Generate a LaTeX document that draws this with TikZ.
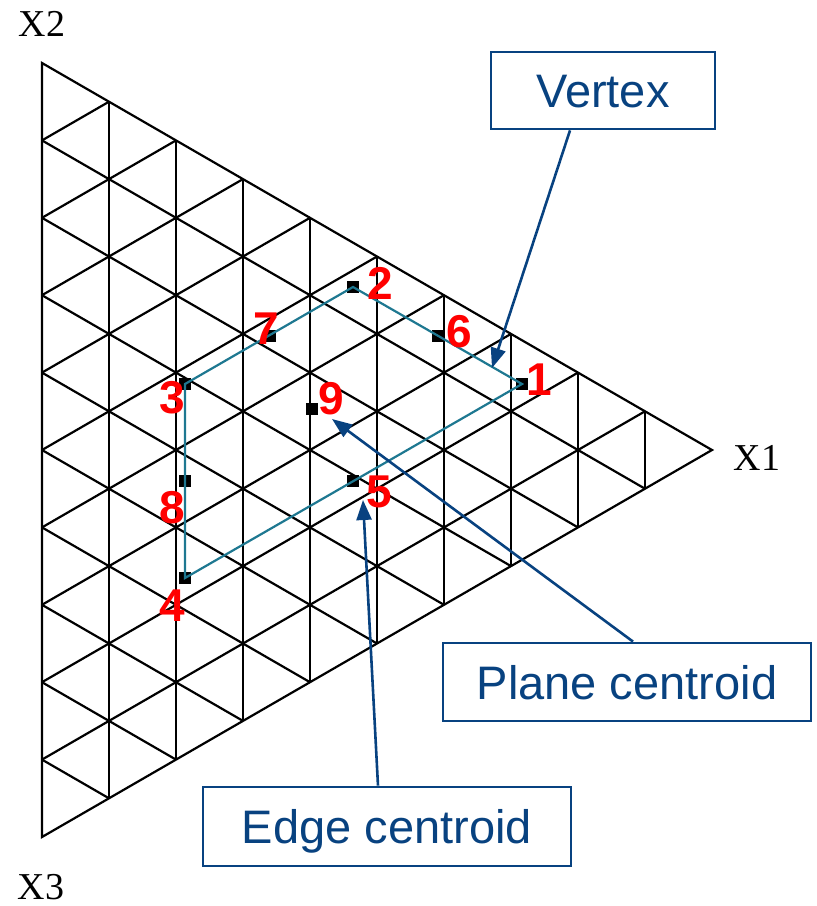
\documentclass[tikz,border=0pt]{standalone}
\usepackage{fontspec}
\setmainfont{Liberation Serif}
\newfontfamily\arialfont{Liberation Sans}
\usetikzlibrary{calc,arrows.meta}
\definecolor{teal1}{RGB}{30,120,145}
\definecolor{navy1}{RGB}{8,66,128}
\begin{document}
\begin{tikzpicture}[x=1pt,y=-1pt,
  grid/.style={line width=2.2pt, black},
  sq/.style={fill=black, minimum size=12.5pt, inner sep=0pt, outer sep=0pt},
  num/.style={text=red, font=\arialfont\bfseries\fontsize{46}{46}\selectfont, inner sep=0pt, text height=33pt, text depth=0pt},
  poly/.style={teal1, line width=2.2pt, line join=miter},
  box/.style={draw=navy1, line width=2.8pt, fill=white, text=navy1, font=\arialfont\fontsize{47}{47}\selectfont, inner sep=0pt, text height=34pt, text depth=0pt},
  arr/.style={navy1, line width=2.6pt, -{Triangle[length=20pt,width=15pt]}},
  axis/.style={font=\fontsize{38}{38}\selectfont, inner sep=0pt, text height=25pt, text depth=0pt}]
\useasboundingbox (0,0) rectangle (817,906);
% triangle and grid
\coordinate (X2) at (42,63);
\coordinate (X3) at (42,837);
\coordinate (X1) at (712,450);
\foreach \k in {1,...,9}{
  \draw[grid] ($(X1)!\k/10!(X2)$) -- ($(X1)!\k/10!(X3)$);
  \draw[grid] ($(X3)!\k/10!(X2)$) -- ($(X3)!\k/10!(X1)$);
  \draw[grid] ($(X2)!\k/10!(X3)$) -- ($(X2)!\k/10!(X1)$);
}
\draw[grid, line join=miter] (X2) -- (X1) -- (X3) -- cycle;
% axis labels
\node[axis] (lx2) at (42,24) {X2};
\node[axis] (lx1) at (757,458) {X1};
\node[axis] (lx3) at (41,887) {X3};
% points
\node[sq] (p1) at (522,384) {};
\node[sq] (p2) at (353,287) {};
\node[sq] (p3) at (185,384) {};
\node[sq] (p4) at (185,578) {};
\node[sq] (p5) at (353,481) {};
\node[sq] (p6) at (438,336) {};
\node[sq] (p7) at (270,336) {};
\node[sq] (p8) at (185,481) {};
\node[sq] (p9) at (312,409) {};
% polygon
\draw[poly] (p2.center) -- (p1.center) -- (p4.center) -- (p3.center) -- cycle;
% numbers
\node[num] (n1) at (539,379) {1};
\node[num] (n2) at (380,283) {2};
\node[num] (n3) at (172,397) {3};
\node[num] (n4) at (172,605) {4};
\node[num] (n5) at (379,491) {5};
\node[num] (n6) at (459,331) {6};
\node[num] (n7) at (266,328) {7};
\node[num] (n8) at (172,507) {8};
\node[num] (n9) at (331,398) {9};
% callout boxes
\node[box, minimum width=224pt, minimum height=77pt] (vbox) at (603,90.5) {Vertex};
\node[box, minimum width=368pt, minimum height=78pt] (pbox) at (627,682) {Plane centroid};
\node[box, minimum width=368pt, minimum height=79pt] (ebox) at (387,826.5) {Edge centroid};
% arrows
\coordinate (tv) at (492,368);
\coordinate (tp) at (332,419);
\coordinate (te) at (363,500);
\draw[arr] ($(vbox.south)+(-33,0)$) -- (tv);
\draw[arr] ($(pbox.north)+(6,0)$) -- (tp);
\draw[arr] ($(ebox.north)+(-9,0)$) -- (te);
\end{tikzpicture}
\end{document}
